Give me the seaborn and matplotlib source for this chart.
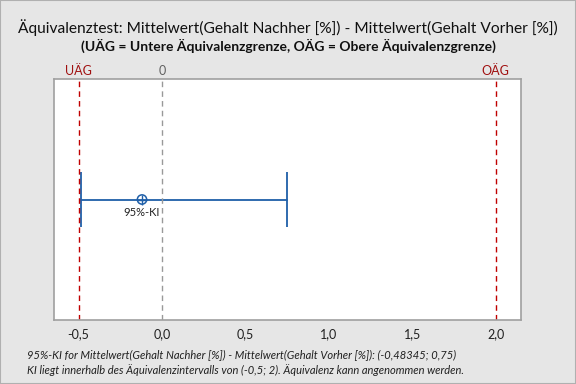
import numpy as np
import pandas as pd
import matplotlib
matplotlib.use("Agg")
import matplotlib.pyplot as plt
import seaborn as sns

# data
estimate = -0.12
ci_lower = -0.48345
ci_upper = 0.75
lower_limit = -0.5
upper_limit = 2.0
x_ticks = [-0.5, 0.0, 0.5, 1.0, 1.5, 2.0]
x_tick_labels = ["-0,5", "0,0", "0,5", "1,0", "1,5", "2,0"]

bg = "#e6e6e6"
blue = "#1f5fa8"
red = "#c00000"

sns.set_style("white")
plt.rcParams["font.family"] = ["Lato", "DejaVu Sans"]

fig = plt.figure(figsize=(5.76, 3.84), dpi=100, facecolor=bg)
ax = fig.add_axes([54 / 576, 1 - 320 / 384, (521 - 54) / 576, (320 - 79) / 384])
ax.set_facecolor("white")

ci = pd.DataFrame({"x": [ci_lower, ci_upper], "y": [0, 0]})
sns.lineplot(data=ci, x="x", y="y", color=blue, lw=1.3, ax=ax)
ax.vlines([ci_lower, ci_upper], -0.225, 0.225, color=blue, lw=1.3)

pt = pd.DataFrame({"x": [estimate], "y": [0]})
sns.scatterplot(data=pt, x="x", y="y", marker="o", s=45, facecolor="none",
                edgecolor=blue, linewidth=1.1, ax=ax, zorder=5)
sns.scatterplot(data=pt, x="x", y="y", marker="+", s=45, color=blue,
                linewidth=1.0, ax=ax, zorder=5)
ax.text(estimate, -0.06, "95%-KI", ha="center", va="top", fontsize=8, color="#202020")

ax.axvline(lower_limit, color=red, ls=(0, (4, 3)), lw=1.0)
ax.axvline(upper_limit, color=red, ls=(0, (4, 3)), lw=1.0)
ax.axvline(0, color="#999999", ls=(0, (4, 3)), lw=1.0)

ax.set_xlim(-0.6475, 2.152)
ax.set_ylim(-1, 1)
ax.set_xticks(x_ticks)
ax.set_xticklabels(x_tick_labels, fontsize=9, color="#202020")
ax.set_yticks([])
ax.set_xlabel("")
ax.set_ylabel("")
ax.tick_params(axis="x", length=0, pad=6)
for s in ax.spines.values():
    s.set_color("#a0a0a0")
    s.set_linewidth(1.2)

ax.text(lower_limit, 1.008, "UÄG", transform=ax.get_xaxis_transform(), ha="center",
        va="bottom", fontsize=9, color="#a01010")
ax.text(0, 1.008, "0", transform=ax.get_xaxis_transform(), ha="center",
        va="bottom", fontsize=9, color="#606060")
ax.text(upper_limit, 1.008, "OÄG", transform=ax.get_xaxis_transform(), ha="center",
        va="bottom", fontsize=9, color="#a01010")

fig.text(0.5, 1 - 28 / 384, "Äquivalenztest: Mittelwert(Gehalt Nachher [%]) - Mittelwert(Gehalt Vorher [%])",
         ha="center", va="center", fontsize=11.2, color="#101010")
fig.text(0.5, 1 - 46 / 384, "(UÄG = Untere Äquivalenzgrenze, OÄG = Obere Äquivalenzgrenze)",
         ha="center", va="center", fontsize=10, fontweight="bold", color="#101010")

fig.text(27 / 576, 1 - 355 / 384,
         "95%-KI for Mittelwert(Gehalt Nachher [%]) - Mittelwert(Gehalt Vorher [%]): (-0,48345; 0,75)",
         ha="left", va="center", fontsize=8, style="italic", color="#202020")
fig.text(27 / 576, 1 - 370 / 384,
         "KI liegt innerhalb des Äquivalenzintervalls von (-0,5; 2). Äquivalenz kann angenommen werden.",
         ha="left", va="center", fontsize=8, style="italic", color="#202020")

fig.patches.append(plt.Rectangle((0, 0), 1, 1, transform=fig.transFigure, fill=False,
                                 edgecolor="#b0b0b0", lw=1.5))

fig.savefig("out.png", dpi=100, facecolor=bg)
